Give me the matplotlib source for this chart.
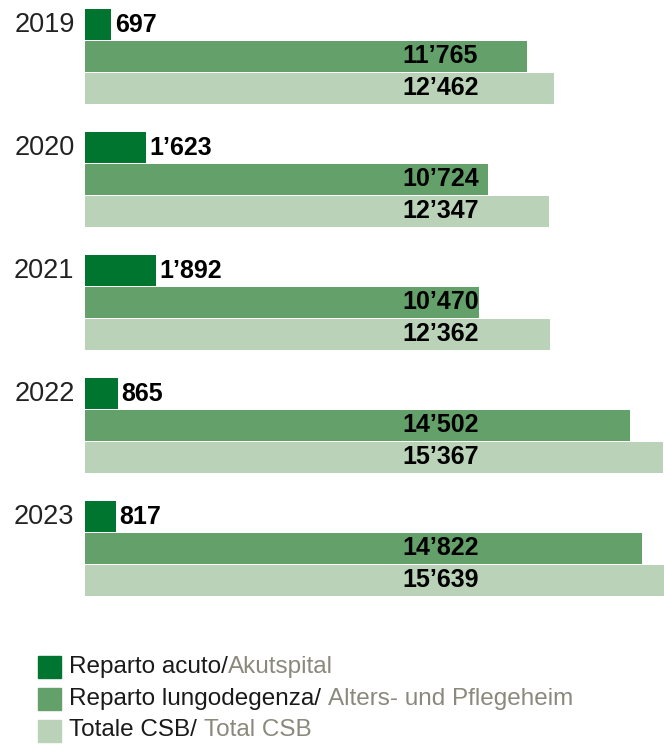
import matplotlib
matplotlib.use("Agg")
import matplotlib.pyplot as plt
from matplotlib.patches import Rectangle

years = ["2019", "2020", "2021", "2022", "2023"]
acuto = [697, 1623, 1892, 865, 817]
lungodegenza = [11765, 10724, 10470, 14502, 14822]
totale = [12462, 12347, 12362, 15367, 15639]

legend_it = ["Reparto acuto/", "Reparto lungodegenza/ ", "Totale CSB/ "]
legend_de = ["Akutspital", "Alters- und Pflegeheim", "Total CSB"]

c_dark = "#00752f"
c_mid = "#63a06a"
c_light = "#b9d2b8"
c_gray = "#8a897c"
colors = [c_dark, c_mid, c_light]

W, H = 664, 744
fig = plt.figure(figsize=(W / 100, H / 100), dpi=100)
# axes: x from 85px to 664px, y from 0 to 615px
ax = fig.add_axes([85 / W, 1 - 615 / H, (664 - 85) / W, 615 / H])
ax.set_xlim(0, 15400)
ax.set_ylim(5.0, 0)
ax.axis("off")

bar_h = 0.252
step = 0.257
mid = 0.459
fmt = lambda v: f"{v:,}".replace(",", "\u2019")

for i, yr in enumerate(years):
    ys = [i + mid - step, i + mid, i + mid + step]
    vals = [acuto[i], lungodegenza[i], totale[i]]
    for y, v, c in zip(ys, vals, colors):
        ax.barh(y, v, height=bar_h, color=c, edgecolor="none")
    # small value label after the bar
    ax.annotate(fmt(acuto[i]), xy=(acuto[i], ys[0]), xytext=(2.5, 0),
                textcoords="offset points", ha="left", va="center",
                fontsize=18, fontweight="bold", family="Liberation Sans", color="black")
    # big labels inside bars at fixed position
    for y, v in zip(ys[1:], vals[1:]):
        ax.text(9450, y, fmt(v), ha="center", va="center", fontsize=18,
                fontweight="bold", family="Liberation Sans", color="black")
    # year label
    ax.annotate(yr, xy=(0, ys[0]), xytext=(-7.5, 0), textcoords="offset points",
                ha="right", va="center", fontsize=19.5, family="Liberation Sans",
                color="#222222", annotation_clip=False)

# legend
row_y = [667, 699, 730.5]
for k in range(3):
    yc = row_y[k]
    fig.patches.append(Rectangle((38 / W, 1 - (yc + 11) / H), 23 / W, 22 / H,
                                 transform=fig.transFigure, color=colors[k],
                                 figure=fig))
    t = fig.text(69 / W, 1 - yc / H, legend_it[k], ha="left", va="center",
                 fontsize=17.5, family="Liberation Sans", color="#1a1a1a")
    fig.canvas.draw()
    ax.annotate(legend_de[k], xy=(1, 0), xycoords=t, xytext=(0, 0),
                textcoords="offset points", ha="left", va="bottom",
                fontsize=17.5, family="Liberation Sans", color=c_gray,
                annotation_clip=False)

fig.savefig("out.png", dpi=100)
